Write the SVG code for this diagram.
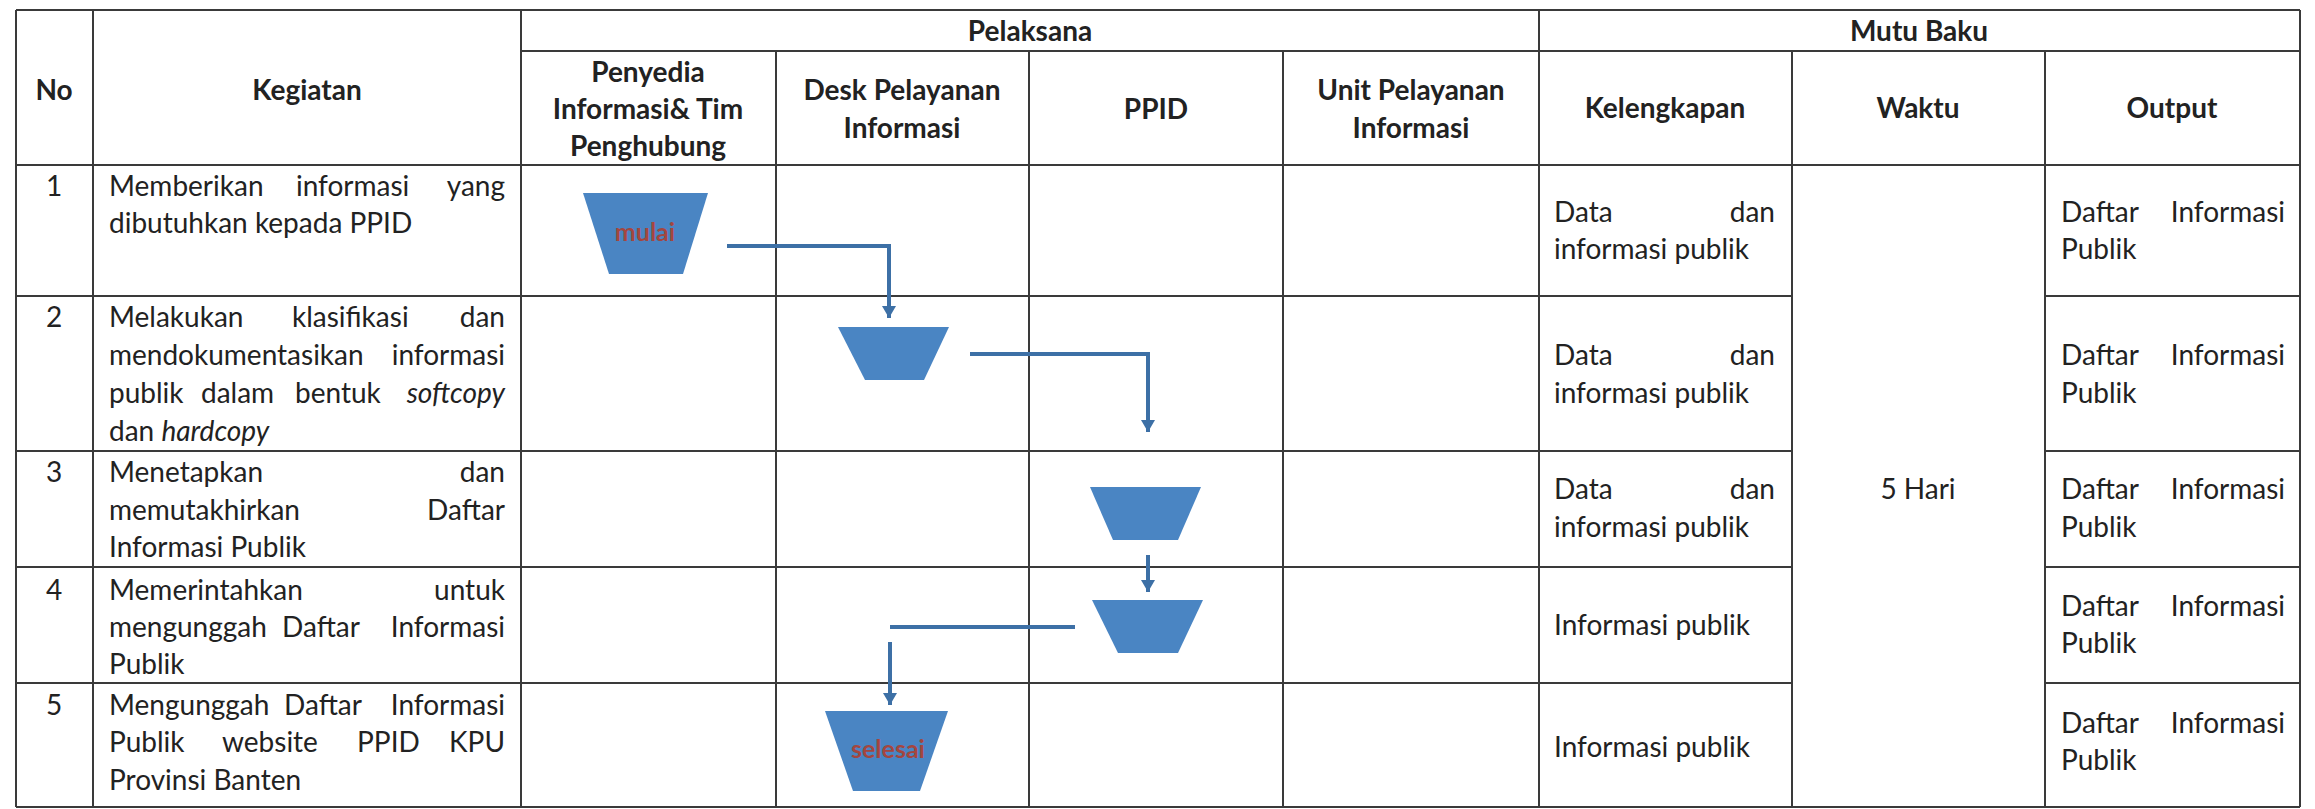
<svg xmlns="http://www.w3.org/2000/svg" width="2315" height="809" viewBox="0 0 2315 809">
<style>
.t{font-family:Lato,"Liberation Sans",sans-serif;font-size:28px;fill:#222222}
.h{font-weight:700;text-anchor:middle}
.c{text-anchor:middle}
.e{text-anchor:end}
.i{font-style:italic}
.grid line{stroke:#3a3a3a;stroke-width:2}
.node{fill:#4a85c3}
.lbl{font-family:Lato,"Liberation Sans",sans-serif;font-size:25px;font-weight:700;fill:#a4463f;text-anchor:middle}
.conn{stroke:#3d70a6;stroke-width:4;fill:none}
</style>
<defs>
<marker id="arr" markerUnits="userSpaceOnUse" markerWidth="16" markerHeight="14" viewBox="0 0 12 14" refX="12" refY="7" orient="auto">
<path d="M0,0 L12,7 L0,14 Z" fill="#3d70a6"/>
</marker>
</defs>
<rect width="2315" height="809" fill="#ffffff"/>
<g id="table" class="grid">
<line x1="16" y1="10" x2="2300" y2="10"/>
<line x1="521" y1="51" x2="2300" y2="51"/>
<line x1="16" y1="165" x2="2300" y2="165"/>
<line x1="16" y1="296" x2="1792" y2="296"/><line x1="2045" y1="296" x2="2300" y2="296"/>
<line x1="16" y1="451" x2="1792" y2="451"/><line x1="2045" y1="451" x2="2300" y2="451"/>
<line x1="16" y1="567" x2="1792" y2="567"/><line x1="2045" y1="567" x2="2300" y2="567"/>
<line x1="16" y1="683" x2="1792" y2="683"/><line x1="2045" y1="683" x2="2300" y2="683"/>
<line x1="16" y1="807" x2="2300" y2="807"/>
<line x1="16" y1="10" x2="16" y2="807"/>
<line x1="93" y1="10" x2="93" y2="807"/>
<line x1="521" y1="10" x2="521" y2="807"/>
<line x1="776" y1="51" x2="776" y2="807"/>
<line x1="1029" y1="51" x2="1029" y2="807"/>
<line x1="1283" y1="51" x2="1283" y2="807"/>
<line x1="1539" y1="10" x2="1539" y2="807"/>
<line x1="1792" y1="51" x2="1792" y2="807"/>
<line x1="2045" y1="51" x2="2045" y2="807"/>
<line x1="2300" y1="10" x2="2300" y2="807"/>
</g>
<g id="headers" class="t">
<text class="t h" x="54" y="100">No</text>
<text class="t h" x="307" y="100">Kegiatan</text>
<text class="t h" x="1030" y="41">Pelaksana</text>
<text class="t h" x="1919" y="41">Mutu Baku</text>
<text class="t h" x="648" y="82">Penyedia</text>
<text class="t h" x="648" y="119">Informasi&amp; Tim</text>
<text class="t h" x="648" y="156">Penghubung</text>
<text class="t h" x="902" y="100">Desk Pelayanan</text>
<text class="t h" x="902" y="138">Informasi</text>
<text class="t h" x="1156" y="119">PPID</text>
<text class="t h" x="1411" y="100">Unit Pelayanan</text>
<text class="t h" x="1411" y="138">Informasi</text>
<text class="t h" x="1665" y="118">Kelengkapan</text>
<text class="t h" x="1918" y="118">Waktu</text>
<text class="t h" x="2172" y="118">Output</text>
</g>
<g id="numbers">
<text class="t c" x="54" y="196">1</text>
<text class="t c" x="54" y="327">2</text>
<text class="t c" x="54" y="482">3</text>
<text class="t c" x="54" y="600">4</text>
<text class="t c" x="54" y="715">5</text>
</g>
<g id="kegiatan">
<text class="t" y="196"><tspan x="109">Memberikan</tspan><tspan x="296">informasi</tspan><tspan x="505" class="e">yang</tspan></text>
<text class="t" x="109" y="233">dibutuhkan kepada PPID</text>
<text class="t" y="327"><tspan x="109">Melakukan</tspan><tspan x="292">klasifikasi</tspan><tspan x="505" class="e">dan</tspan></text>
<text class="t" y="365"><tspan x="109">mendokumentasikan</tspan><tspan x="505" class="e">informasi</tspan></text>
<text class="t" y="403"><tspan x="109">publik</tspan><tspan x="201">dalam</tspan><tspan x="295">bentuk</tspan><tspan x="505" class="e i">softcopy</tspan></text>
<text class="t" x="109" y="441">dan <tspan class="i">hardcopy</tspan></text>
<text class="t" y="482"><tspan x="109">Menetapkan</tspan><tspan x="505" class="e">dan</tspan></text>
<text class="t" y="520"><tspan x="109">memutakhirkan</tspan><tspan x="505" class="e">Daftar</tspan></text>
<text class="t" x="109" y="557">Informasi Publik</text>
<text class="t" y="600"><tspan x="109">Memerintahkan</tspan><tspan x="505" class="e">untuk</tspan></text>
<text class="t" y="637"><tspan x="109">mengunggah</tspan><tspan x="282">Daftar</tspan><tspan x="505" class="e">Informasi</tspan></text>
<text class="t" x="109" y="674">Publik</text>
<text class="t" y="715"><tspan x="109">Mengunggah</tspan><tspan x="284">Daftar</tspan><tspan x="505" class="e">Informasi</tspan></text>
<text class="t" y="752"><tspan x="109">Publik</tspan><tspan x="222">website</tspan><tspan x="357">PPID</tspan><tspan x="505" class="e">KPU</tspan></text>
<text class="t" x="109" y="790">Provinsi Banten</text>
</g>
<g id="kelengkapan">
<text class="t" y="222"><tspan x="1554">Data</tspan><tspan x="1775" class="e">dan</tspan></text>
<text class="t" x="1554" y="259">informasi publik</text>
<text class="t" y="365"><tspan x="1554">Data</tspan><tspan x="1775" class="e">dan</tspan></text>
<text class="t" x="1554" y="403">informasi publik</text>
<text class="t" y="499"><tspan x="1554">Data</tspan><tspan x="1775" class="e">dan</tspan></text>
<text class="t" x="1554" y="537">informasi publik</text>
<text class="t" x="1554" y="635">Informasi publik</text>
<text class="t" x="1554" y="757">Informasi publik</text>
</g>
<g id="waktu">
<text class="t c" x="1918" y="499">5 Hari</text>
</g>
<g id="output">
<text class="t" y="222"><tspan x="2061">Daftar</tspan><tspan x="2285" class="e">Informasi</tspan></text>
<text class="t" x="2061" y="259">Publik</text>
<text class="t" y="365"><tspan x="2061">Daftar</tspan><tspan x="2285" class="e">Informasi</tspan></text>
<text class="t" x="2061" y="403">Publik</text>
<text class="t" y="499"><tspan x="2061">Daftar</tspan><tspan x="2285" class="e">Informasi</tspan></text>
<text class="t" x="2061" y="537">Publik</text>
<text class="t" y="616"><tspan x="2061">Daftar</tspan><tspan x="2285" class="e">Informasi</tspan></text>
<text class="t" x="2061" y="653">Publik</text>
<text class="t" y="733"><tspan x="2061">Daftar</tspan><tspan x="2285" class="e">Informasi</tspan></text>
<text class="t" x="2061" y="770">Publik</text>
</g>
<g id="connectors">
<path class="conn" d="M727,246 H889 V318" marker-end="url(#arr)"/>
<path class="conn" d="M970,354 H1148 V432" marker-end="url(#arr)"/>
<path class="conn" d="M1148,555 V592" marker-end="url(#arr)"/>
<path class="conn" d="M1075,627 H890"/>
<path class="conn" d="M890,642 V705" marker-end="url(#arr)"/>
</g>
<g id="node-mulai">
<polygon class="node" points="583,193 708,193 683,274 609,274"/>
<text class="lbl" x="645" y="241">mulai</text>
</g>
<g id="node-2">
<polygon class="node" points="838,327 949,327 924,380 865,380"/>
</g>
<g id="node-3">
<polygon class="node" points="1090,487 1201,487 1178,540 1113,540"/>
</g>
<g id="node-4">
<polygon class="node" points="1092,600 1203,600 1178,653 1118,653"/>
</g>
<g id="node-selesai">
<polygon class="node" points="825,711 948,711 920,791 853,791"/>
<text class="lbl" x="888" y="758">selesai</text>
</g>
</svg>
